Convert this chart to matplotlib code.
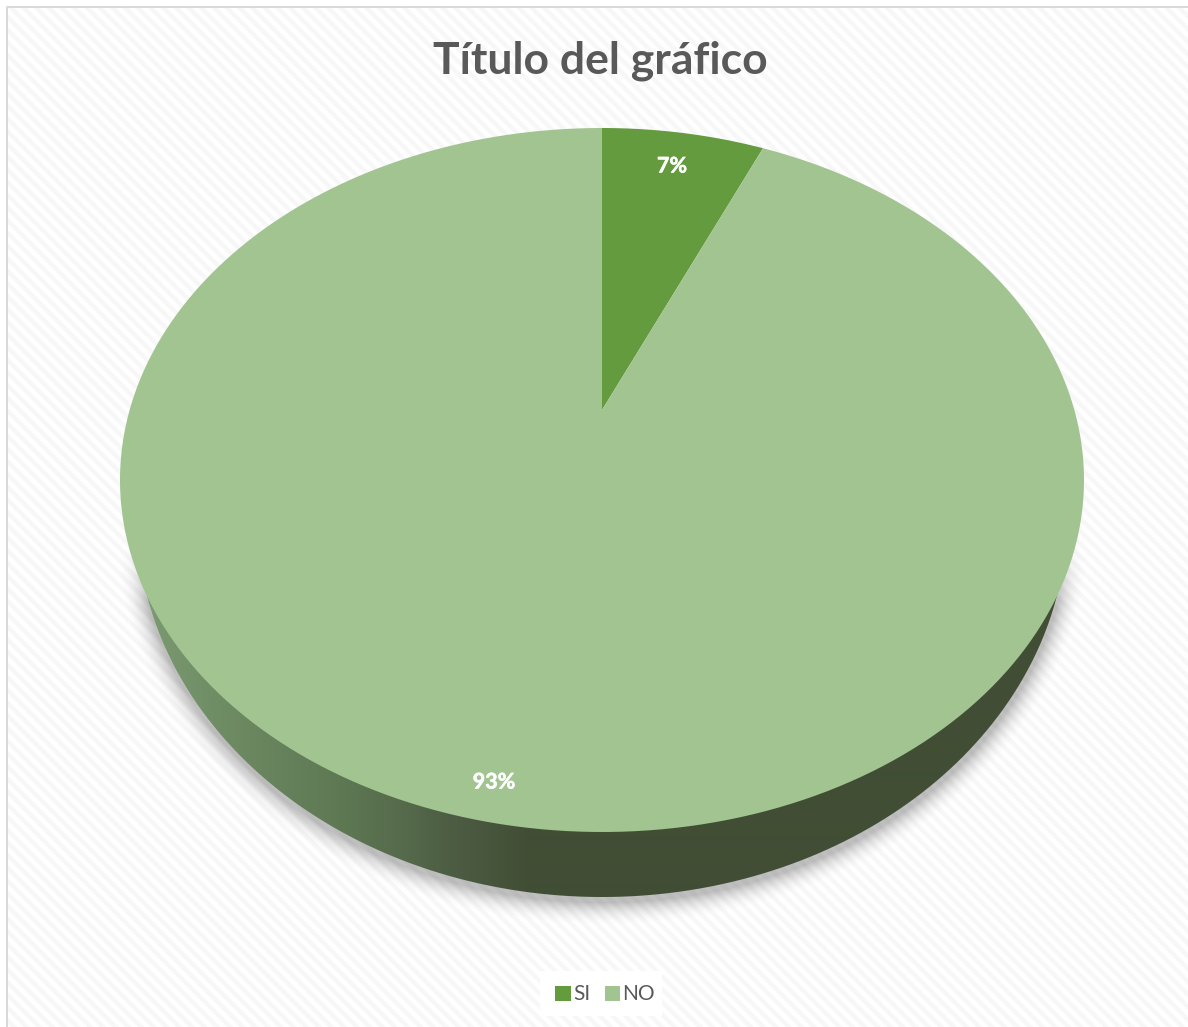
import numpy as np
import matplotlib
matplotlib.use("Agg")
import matplotlib.pyplot as plt
import matplotlib.patheffects as pe
from matplotlib.path import Path
from matplotlib.patches import Rectangle, PathPatch
from matplotlib.transforms import Transform, Affine2D
from matplotlib.colors import LinearSegmentedColormap

categories = ["SI", "NO"]
values = [6.6, 93.4]
slice_colors = ["#649b3e", "#a2c491"]
title = "Título del gráfico"

W, H = 1188, 1027
CX, APEX_Y, TOP_Y, BOTTOM_Y, HALF_W = 602.0, 410.0, 128.0, 832.0, 482.0
BASE_CY, BASE_RX, BASE_RY = 517.0, 465.0, 380.0

up, down = APEX_Y - TOP_Y, BOTTOM_Y - APEX_Y
K = (down - up) / (down + up)
A = up * (1 + K)
B = HALF_W * np.sqrt(1 - K ** 2)


class Perspective(Transform):
    input_dims = output_dims = 2
    is_separable = False
    has_inverse = False

    def transform_non_affine(self, xy):
        xy = np.asarray(xy, float)
        d = 1 + K * xy[:, 1]
        return np.column_stack([CX + B * xy[:, 0] / d, APEX_Y - A * xy[:, 1] / d])

    def transform_path_non_affine(self, path):
        polys = path.transformed(Affine2D().scale(2000)).to_polygons(closed_only=True)
        pts = np.vstack(polys) / 2000
        return Path(self.transform_non_affine(pts), closed=True)


fig = plt.figure(figsize=(W / 100, H / 100), dpi=100, facecolor="white")
ax = fig.add_axes([0, 0, 1, 1])

wedges, _, autotexts = ax.pie(values, colors=slice_colors, startangle=90, counterclock=False,
                              labels=None, autopct="%.0f%%", wedgeprops=dict(linewidth=0))
ax.set_aspect("auto")
ax.axis("off")

persp = Perspective()
for w in wedges:
    w.set_transform(persp + ax.transData)
    w.set_zorder(5)

for t, pos in zip(autotexts, [(672, 166), (494, 782)]):
    t.set_position(pos)
    t.set_color("white")
    t.set_fontfamily("Lato")
    t.set_fontweight("bold")
    t.set_fontsize(15.5)
    t.set_ha("center")
    t.set_va("center")
    t.set_zorder(6)
    t.set_path_effects([pe.withStroke(linewidth=0.4, foreground="white")])

# chart-area background: white with faint diagonal stripes
yy, xx = np.mgrid[0:H, 0:W]
stripes = np.clip(0.5 + 0.9 * np.sin(2 * np.pi * (xx - yy) / 12.7), 0, 1)
stripe_img = 1.0 - 0.035 * stripes
ax.imshow(stripe_img, cmap="gray", vmin=0, vmax=1, extent=(0, W, H, 0), zorder=0,
          interpolation="bilinear", aspect="auto")

# frame lines on the left and top
ax.plot([7, 7, W], [H, 7, 7], color="#d9d9d9", linewidth=1.4, zorder=1)
ax.add_patch(Rectangle((0, 0), 6, H, facecolor="white", edgecolor="none", zorder=0.5))
ax.add_patch(Rectangle((0, 0), W, 6, facecolor="white", edgecolor="none", zorder=0.5))

# soft shadow under the side wall
sy = BASE_CY + 4
u = (xx - CX) / (BASE_RX + 1)
v = (yy - sy) / (BASE_RY + 1)
rho = np.sqrt(u ** 2 + v ** 2)
radial = np.sqrt((xx - CX) ** 2 + (yy - sy) ** 2)
dist = (rho - 1) * radial / np.maximum(rho, 1e-6)
alpha = np.clip(1 - dist / 24, 0, 1) ** 2 * 0.36
alpha *= np.clip((yy - 545) / 60, 0, 1)
shadow = np.zeros((H, W, 4))
shadow[..., :3] = 0.3
shadow[..., 3] = alpha
ax.imshow(shadow, extent=(0, W, H, 0), zorder=2, interpolation="bilinear", aspect="auto")

# side wall: lower half of the base ellipse, with the left-to-right shading
th = np.linspace(0, np.pi, 500)
side_v = np.column_stack([CX + BASE_RX * np.cos(th), BASE_CY + BASE_RY * np.sin(th)])
side_path = Path(np.vstack([side_v, side_v[0]]), closed=True)
stop_x = np.array([120, 250, 330, 400, 450, 530])
stop_c = ["#7f9f75", "#6a8760", "#5f7a55", "#566b4c", "#4d5d43", "#414e35"]
side_cmap = LinearSegmentedColormap.from_list(
    "side", list(zip((stop_x - stop_x[0]) / (stop_x[-1] - stop_x[0]), stop_c)))
grad = np.clip((xx[0] - stop_x[0]) / (stop_x[-1] - stop_x[0]), 0, 1)[None, :]
im = ax.imshow(grad, cmap=side_cmap, vmin=0, vmax=1, extent=(0, W, H, 0), zorder=3,
               aspect="auto", interpolation="bilinear")
clip = PathPatch(side_path, transform=ax.transData, facecolor="none", edgecolor="none")
ax.add_patch(clip)
im.set_clip_path(clip)

ax.set_xlim(0, W)
ax.set_ylim(H, 0)

ax.text(600, 61, title, ha="center", va="center", fontsize=32, fontweight="bold",
        family="Lato", color="#595959", zorder=6)

ax.add_patch(Rectangle((540, 971), 122, 45, facecolor="white", edgecolor="none", zorder=4))
leg = ax.legend(wedges, categories, loc="center", bbox_to_anchor=(605, 994.5),
                bbox_transform=ax.transData, ncol=2, frameon=False,
                labelcolor="#595959", handlelength=0.75, handleheight=0.75,
                handletextpad=0.1, columnspacing=0.7, borderpad=0.7,
                prop=dict(family="Lato", size=15))
leg.set_zorder(6)

fig.savefig("out.png", dpi=100)
